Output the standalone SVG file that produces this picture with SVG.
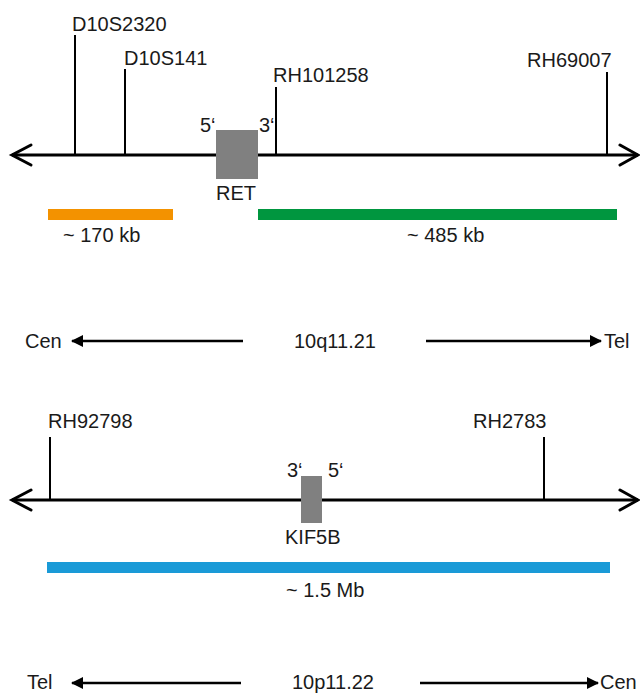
<svg xmlns="http://www.w3.org/2000/svg" width="640" height="693" viewBox="0 0 640 693">
<style>
text{font-family:"Liberation Sans",Arial,sans-serif;font-size:20px;fill:#1a1a1a}
.axis{stroke:#000;stroke-width:3;fill:none}
.chev{stroke:#000;stroke-width:3;fill:none;stroke-linecap:round;stroke-linejoin:miter}
.tick{stroke:#000;stroke-width:2}
.dir{stroke:#000;stroke-width:2.5;fill:none}
.gene{fill:#808080}
</style>
<defs>
<marker id="tri" viewBox="0 0 12 12" refX="11" refY="6" markerWidth="12" markerHeight="12" markerUnits="userSpaceOnUse" orient="auto">
<path d="M0,0 L12,6 L0,12 Z" fill="#000"/>
</marker>
</defs>
<rect width="640" height="693" fill="#fff"/>

<g id="connectors">
<line class="axis" x1="12" y1="155" x2="638" y2="155"/>
<polyline class="chev" points="31,145 12,155 31,165"/>
<polyline class="chev" points="620,145 638,155 620,165"/>
<line class="tick" x1="75" y1="35" x2="75" y2="155"/>
<line class="tick" x1="125" y1="69" x2="125" y2="155"/>
<line class="tick" x1="276" y1="87" x2="276" y2="155"/>
<line class="tick" x1="607" y1="72" x2="607" y2="155"/>

<line class="dir" x1="243" y1="341" x2="72" y2="341" marker-end="url(#tri)"/>
<line class="dir" x1="426" y1="341" x2="601" y2="341" marker-end="url(#tri)"/>

<line class="axis" x1="12" y1="500" x2="638" y2="500"/>
<polyline class="chev" points="31,490 12,500 31,510"/>
<polyline class="chev" points="620,490 638,500 620,510"/>
<line class="tick" x1="50" y1="437" x2="50" y2="500"/>
<line class="tick" x1="544" y1="437" x2="544" y2="500"/>

<line class="dir" x1="241" y1="683" x2="72" y2="683" marker-end="url(#tri)"/>
<line class="dir" x1="420" y1="683" x2="598" y2="683" marker-end="url(#tri)"/>
</g>

<g id="markers-top">
<text x="72" y="31">D10S2320</text>
<text x="124" y="65">D10S141</text>
<text x="273" y="82">RH101258</text>
<text x="527" y="67">RH69007</text>
</g>

<g id="RET">
<rect class="gene" x="216" y="130" width="42" height="49"/>
<text x="200" y="132">5‘</text>
<text x="259" y="132">3‘</text>
<text x="216" y="200">RET</text>
</g>

<g id="bar-170kb">
<rect x="48" y="209" width="125" height="11" fill="#f39200"/>
<text x="63" y="242">~ 170 kb</text>
</g>
<g id="bar-485kb">
<rect x="258" y="209" width="359" height="11" fill="#00963f"/>
<text x="407" y="242">~ 485 kb</text>
</g>

<g id="orient-q">
<text x="25" y="348">Cen</text>
<text x="294" y="348">10q11.21</text>
<text x="604" y="348">Tel</text>
</g>

<g id="markers-bottom">
<text x="48" y="428">RH92798</text>
<text x="473" y="428">RH2783</text>
</g>

<g id="KIF5B">
<rect class="gene" x="301" y="476" width="21" height="47"/>
<text x="287" y="477">3‘</text>
<text x="328" y="477">5‘</text>
<text x="285" y="544">KIF5B</text>
</g>

<g id="bar-1.5Mb">
<rect x="47" y="562" width="563" height="11" fill="#1a9ad7"/>
<text x="286" y="597">~ 1.5 Mb</text>
</g>

<g id="orient-p">
<text x="27" y="689">Tel</text>
<text x="292" y="689">10p11.22</text>
<text x="600" y="689">Cen</text>
</g>
</svg>
